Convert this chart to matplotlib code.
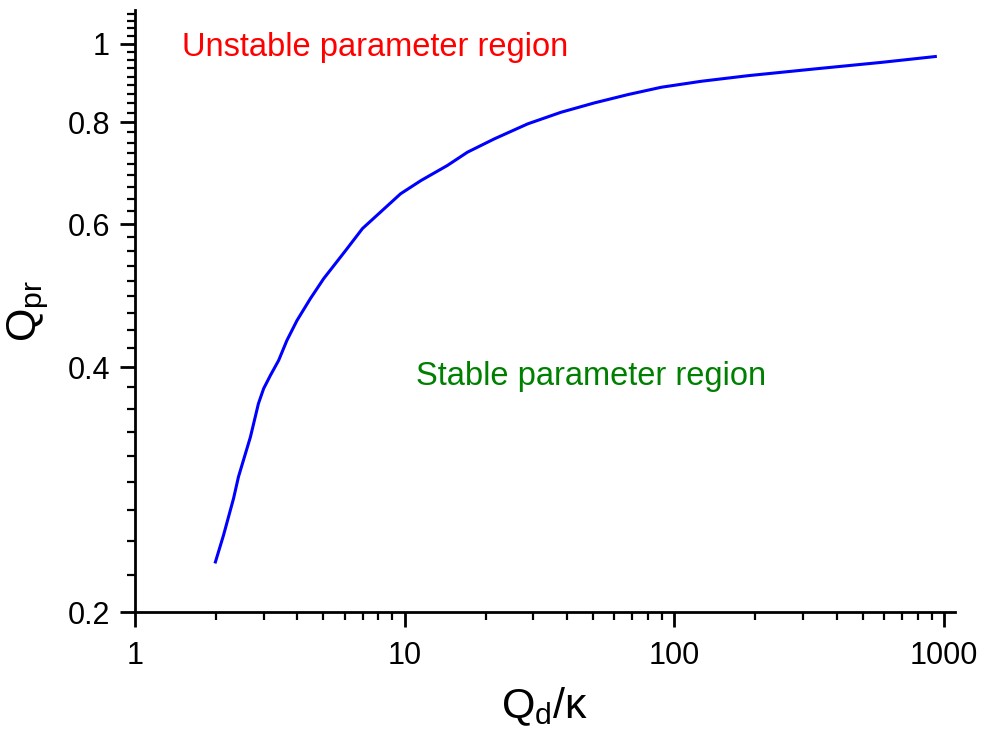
import numpy as np
import matplotlib
matplotlib.use('Agg')
import matplotlib.pyplot as plt
from matplotlib.ticker import FixedLocator, LogLocator, NullFormatter, FuncFormatter

plt.rcParams['font.family'] = ['Liberation Sans', 'DejaVu Sans']
plt.rcParams['mathtext.fontset'] = 'custom'
plt.rcParams['mathtext.rm'] = 'Liberation Sans'
plt.rcParams['mathtext.it'] = 'Liberation Sans'
plt.rcParams['mathtext.default'] = 'regular'

# curve
qd_kappa = [1.98, 2.13, 2.32, 2.42, 2.68, 2.87, 3.0, 3.18, 3.41, 3.66, 3.99, 4.47, 5.01,
            6.04, 6.98, 8.14, 9.66, 11.5, 14.4, 17.1, 21.5, 28.6, 38.0, 50.5, 67.3, 89.5,
            126, 188, 332, 588, 942]
q_pr = [0.2295, 0.2486, 0.2758, 0.2933, 0.3283, 0.3609, 0.3765, 0.391, 0.4078, 0.4316,
        0.4567, 0.4857, 0.5141, 0.5566, 0.5925, 0.6207, 0.6537, 0.6787, 0.7082, 0.7354,
        0.7636, 0.7968, 0.8234, 0.8455, 0.8657, 0.8839, 0.899, 0.9134, 0.931, 0.9485, 0.9647]

x_ticks = [1, 10, 100, 1000]
y_ticks = [0.2, 0.4, 0.6, 0.8, 1.0]
y_tick_labels = ['0.2', '0.4', '0.6', '0.8', '1']

fig = plt.figure(figsize=(9.81, 7.37), dpi=100)
ax = fig.add_axes([0.1376, 0.1696, 0.9735 - 0.1376, 0.9864 - 0.1696])

ax.plot(qd_kappa, q_pr, color='#0000ff', lw=2.2, solid_capstyle='butt')

ax.set_xscale('log')
ax.set_yscale('log')
ax.set_xlim(1, 1100)
ax.set_ylim(0.2, 1.1)

ax.xaxis.set_major_locator(FixedLocator(x_ticks))
ax.xaxis.set_minor_locator(LogLocator(base=10, subs=np.arange(2, 10)))
ax.xaxis.set_major_formatter(FuncFormatter(lambda v, p: '%d' % round(v)))
ax.xaxis.set_minor_formatter(NullFormatter())

ax.set_yticks(y_ticks)
ax.set_yticklabels(y_tick_labels)
minor_y = [0.2 + k * 0.2 / 9 for k in range(1, 45) if k % 9 != 0]
ax.yaxis.set_minor_locator(FixedLocator(minor_y))
ax.yaxis.set_minor_formatter(NullFormatter())

for s in ['top', 'right']:
    ax.spines[s].set_visible(False)
for s in ['left', 'bottom']:
    ax.spines[s].set_linewidth(2)

ax.tick_params(which='major', direction='out', length=11, width=2, labelsize=22)
ax.tick_params(which='minor', direction='out', length=6, width=1.6)
ax.tick_params(axis='x', which='major', pad=10)
ax.tick_params(axis='y', which='major', pad=7)

ax.set_xlabel(r'$Q_d/κ$', fontsize=31, labelpad=10)
ax.set_ylabel(r'$Q_{pr}$', fontsize=31, labelpad=12)

ax.text(1.5, 0.989, 'Unstable parameter region', color='#ff0000', fontsize=23.5, va='center', ha='left')
ax.text(11.0, 0.39, 'Stable parameter region', color='#008000', fontsize=23.5, va='center', ha='left')

fig.savefig('out.png', dpi=100)
